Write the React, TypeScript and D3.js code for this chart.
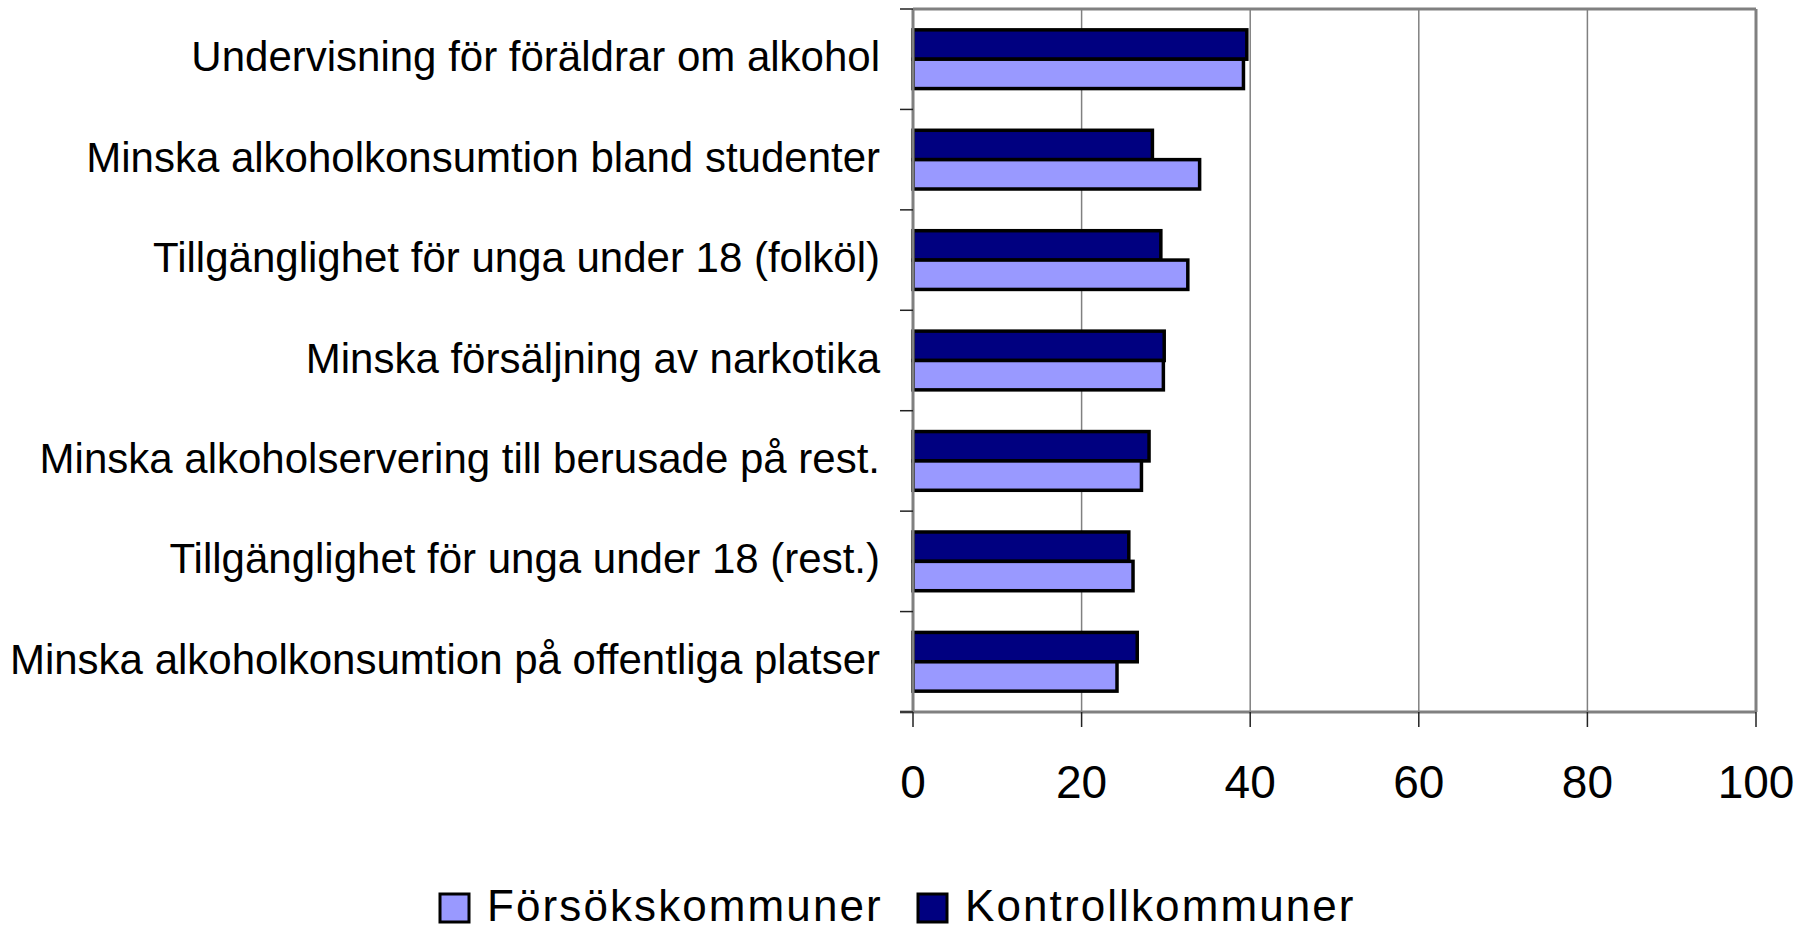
import React from 'react';
import * as d3 from 'd3';

const categories = [
  'Undervisning för föräldrar om alkohol',
  'Minska alkoholkonsumtion bland studenter',
  'Tillgänglighet för unga under 18 (folköl)',
  'Minska försäljning av narkotika',
  'Minska alkoholservering till berusade på rest.',
  'Tillgänglighet för unga under 18 (rest.)',
  'Minska alkoholkonsumtion på offentliga platser',
];

const series = ['Kontrollkommuner', 'Försökskommuner'];
const kontroll = [39.6, 28.4, 29.4, 29.8, 28.0, 25.6, 26.6];
const forsok = [39.2, 34.0, 32.6, 29.7, 27.1, 26.1, 24.2];
const xTicks = [0, 20, 40, 60, 80, 100];

const colors: Record<string, string> = {
  Kontrollkommuner: '#000080',
  Försökskommuner: '#9999ff',
};

const legendOrder = ['Försökskommuner', 'Kontrollkommuner'];

export default function App() {
  const width = 1814;
  const height = 933;
  const left = 913;
  const right = 1756;
  const top = 9;
  const bottom = 712;
  const font = '"Liberation Sans", Arial, sans-serif';

  const x = d3.scaleLinear().domain([0, 100]).range([left, right]);
  const y = d3.scaleBand().domain(categories).range([top, bottom]).padding(0);
  const ySub = d3
    .scaleBand()
    .domain(series)
    .range([0, y.bandwidth()])
    .paddingInner(0)
    .paddingOuter(0.71);

  const rows = categories.map((c, i) => ({
    category: c,
    values: [
      { key: 'Kontrollkommuner', value: kontroll[i] },
      { key: 'Försökskommuner', value: forsok[i] },
    ],
  }));

  const boundaries = categories.map((c) => y(c) as number).concat([bottom]);

  return (
    <svg
      width={width}
      height={height}
      style={{ position: 'absolute', left: 0, top: 0, background: '#fff' }}
      xmlns="http://www.w3.org/2000/svg"
    >
      <rect x={0} y={0} width={width} height={height} fill="#fff" />
      {/* gridlines */}
      <g>
        {xTicks.slice(1, -1).map((t) => (
          <line key={`grid-${t}`} x1={x(t)} x2={x(t)} y1={top} y2={bottom} stroke="#808080" strokeWidth={1.5} />
        ))}
      </g>
      {/* plot frame */}
      <line x1={left} x2={right} y1={top} y2={top} stroke="#808080" strokeWidth={3} />
      <line x1={right} x2={right} y1={top} y2={bottom} stroke="#808080" strokeWidth={3} />
      {/* bars */}
      <g>
        {rows.map((r) =>
          r.values.map((v) => (
            <rect
              key={`${r.category}-${v.key}`}
              x={x(0)}
              y={(y(r.category) as number) + (ySub(v.key) as number)}
              width={x(v.value) - x(0)}
              height={ySub.bandwidth()}
              fill={colors[v.key]}
              stroke="#000"
              strokeWidth={3.5}
            />
          ))
        )}
      </g>
      {/* axes */}
      <line x1={left} x2={left} y1={top} y2={bottom} stroke="#808080" strokeWidth={3} />
      <line x1={left - 13} x2={right} y1={bottom} y2={bottom} stroke="#808080" strokeWidth={3} />
      <g>
        {boundaries.map((b, i) => (
          <line key={`ytick-${i}`} x1={left - 13} x2={left} y1={b} y2={b} stroke="#222" strokeWidth={1.5} />
        ))}
      </g>
      <g>
        {xTicks.map((t) => (
          <line key={`xtick-${t}`} x1={x(t)} x2={x(t)} y1={bottom} y2={bottom + 15} stroke="#222" strokeWidth={1.5} />
        ))}
      </g>
      <g fontFamily={font} fontSize={46} fill="#000" textAnchor="middle">
        {xTicks.map((t) => (
          <text key={`xl-${t}`} x={x(t)} y={798}>
            {t}
          </text>
        ))}
      </g>
      <g fontFamily={font} fontSize={42} fill="#000" textAnchor="end">
        {categories.map((c) => (
          <text key={`yl-${c}`} x={880} y={(y(c) as number) + y.bandwidth() / 2 + 12}>
            {c}
          </text>
        ))}
      </g>
      {/* legend */}
      <g fontFamily={font} fontSize={44} fill="#000">
        {legendOrder.map((s, i) => {
          const lx = i === 0 ? 440 : 918;
          return (
            <g key={`legend-${s}`} transform={`translate(${lx},894)`}>
              <rect x={0} y={0} width={29} height={28} fill={colors[s]} stroke="#000" strokeWidth={3} />
              <text x={47} y={27} letterSpacing={2.1}>
                {s}
              </text>
            </g>
          );
        })}
      </g>
    </svg>
  );
}
